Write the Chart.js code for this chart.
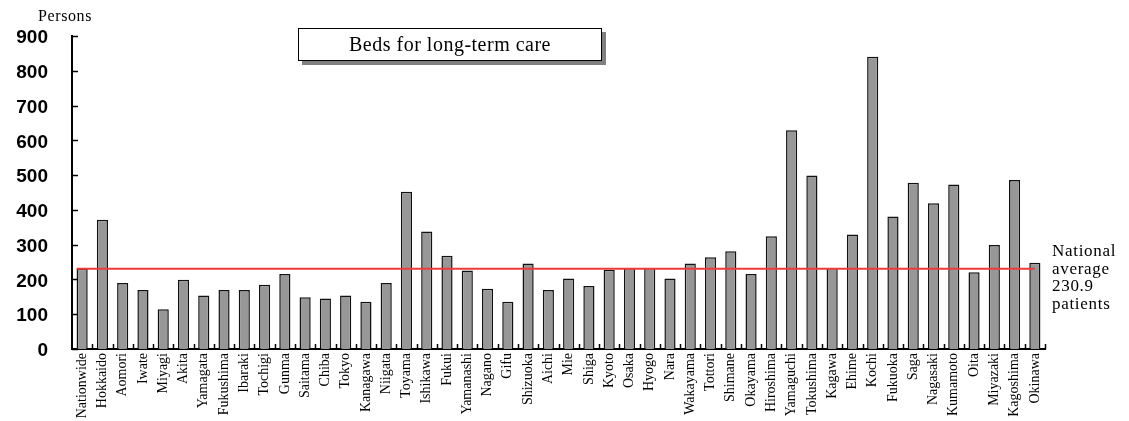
<!DOCTYPE html>
<html>
<head>
<meta charset="utf-8">
<script src="https://cdn.jsdelivr.net/npm/chart.js@4.4.1/dist/chart.umd.min.js"></script>
<style>
  html, body { margin: 0; padding: 0; background: #fff; }
  #wrap { position: relative; width: 1129px; height: 421px; }
  .unit { position: absolute; left: 38px; top: 7px; font: 16px "Liberation Serif", serif; letter-spacing: 0.6px; color: #000; }
  .title-box {
    position: absolute; left: 298px; top: 28px; width: 302px; height: 31px;
    border: 1.5px solid #000; background: #fff; box-shadow: 4px 4px 0 #808080;
    font: 20px "Liberation Serif", serif; letter-spacing: 0.5px; color: #000; text-align: center; line-height: 31px;
  }
  .avg-note {
    position: absolute; left: 1052px; top: 242px;
    font: 17px "Liberation Serif", serif; letter-spacing: 0.7px; line-height: 17.6px; color: #000;
  }
</style>
</head>
<body>
<div id="wrap">
  <canvas id="bedsChart" width="1129" height="421"></canvas>
  <div class="unit">Persons</div>
  <div class="title-box">Beds for long-term care</div>
  <div class="avg-note">National<br>average<br>230.9<br>patients</div>
</div>
<script>
const prefectures = [
  "Nationwide", "Hokkaido", "Aomori", "Iwate", "Miyagi", "Akita", "Yamagata", "Fukushima",
  "Ibaraki", "Tochigi", "Gunma", "Saitama", "Chiba", "Tokyo", "Kanagawa", "Niigata",
  "Toyama", "Ishikawa", "Fukui", "Yamanashi", "Nagano", "Gifu", "Shizuoka", "Aichi",
  "Mie", "Shiga", "Kyoto", "Osaka", "Hyogo", "Nara", "Wakayama", "Tottori",
  "Shimane", "Okayama", "Hiroshima", "Yamaguchi", "Tokushima", "Kagawa", "Ehime", "Kochi",
  "Fukuoka", "Saga", "Nagasaki", "Kumamoto", "Oita", "Miyazaki", "Kagoshima", "Okinawa"
];
const bedCounts = [
  230.9, 372, 190, 170, 114, 199, 154, 170,
  170, 185, 216, 149, 145, 154, 136, 190,
  452, 338, 268, 226, 173, 136, 246, 170,
  203, 181, 228, 233, 233, 203, 246, 264,
  281, 216, 324, 629, 499, 233, 329, 840,
  381, 478, 419, 473, 221, 299, 486, 248
];
const nationalAverage = 230.9;
const yMin = 0;
const yMax = 900;
const yStep = 100;

// inward tick marks, the average line
const axisDecor = {
  id: "axisDecor",
  afterDatasetsDraw(chart) {
    const ctx = chart.ctx;
    const x = chart.scales.x;
    const y = chart.scales.y;
    const area = chart.chartArea;
    const n = prefectures.length;
    const step = (x.getPixelForValue(n - 1) - x.getPixelForValue(0)) / (n - 1);
    const barW = step * 0.54;

    // national average
    const yAvg = y.getPixelForValue(nationalAverage);
    ctx.save();
    ctx.strokeStyle = "#f03a3a";
    ctx.lineWidth = 2;
    ctx.beginPath();
    ctx.moveTo(x.getPixelForValue(0) - barW / 2, yAvg);
    ctx.lineTo(x.getPixelForValue(n - 1), yAvg);
    ctx.stroke();

    ctx.strokeStyle = "#000";
    ctx.lineWidth = 1.5;
    ctx.beginPath();
    y.ticks.forEach(t => {
      const py = Math.round(y.getPixelForValue(t.value)) + 0.5;
      ctx.moveTo(area.left, py);
      ctx.lineTo(area.left + 6, py);
    });
    for (let i = 1; i <= n; i++) {
      const px = Math.round(x.getPixelForValue(i - 0.5)) + 0.5;
      ctx.moveTo(px, area.bottom);
      ctx.lineTo(px, area.bottom - 5);
    }
    ctx.stroke();
    ctx.restore();
  }
};

new Chart(document.getElementById("bedsChart"), {
  type: "bar",
  data: {
    labels: prefectures,
    datasets: [{
      data: bedCounts,
      backgroundColor: "#979797",
      borderColor: "#111",
      borderWidth: 1.5,
      barPercentage: 0.55,
      categoryPercentage: 1
    }]
  },
  options: {
    responsive: false,
    devicePixelRatio: 1,
    animation: false,
    layout: { padding: { top: 36, right: 84, bottom: 0, left: 0 } },
    plugins: {
      legend: { display: false },
      tooltip: { enabled: false }
    },
    scales: {
      x: {
        grid: { display: false, drawTicks: false },
        border: { display: true, color: "#000", width: 2 },
        ticks: {
          autoSkip: false,
          maxRotation: 90,
          minRotation: 90,
          padding: 4,
          color: "#000",
          font: { family: "'Liberation Serif', serif", size: 14 }
        },
        afterFit(scale) { scale.height = 72; }
      },
      y: {
        min: yMin,
        max: yMax,
        grid: { display: false, drawTicks: false },
        border: { display: true, color: "#000", width: 2 },
        ticks: {
          stepSize: yStep,
          padding: 24,
          labelOffset: 2,
          color: "#000",
          font: { family: "'Liberation Sans', Arial, sans-serif", size: 19, weight: "bold" }
        },
        afterFit(scale) { scale.width = 72; }
      }
    }
  },
  plugins: [axisDecor]
});
</script>
</body>
</html>
